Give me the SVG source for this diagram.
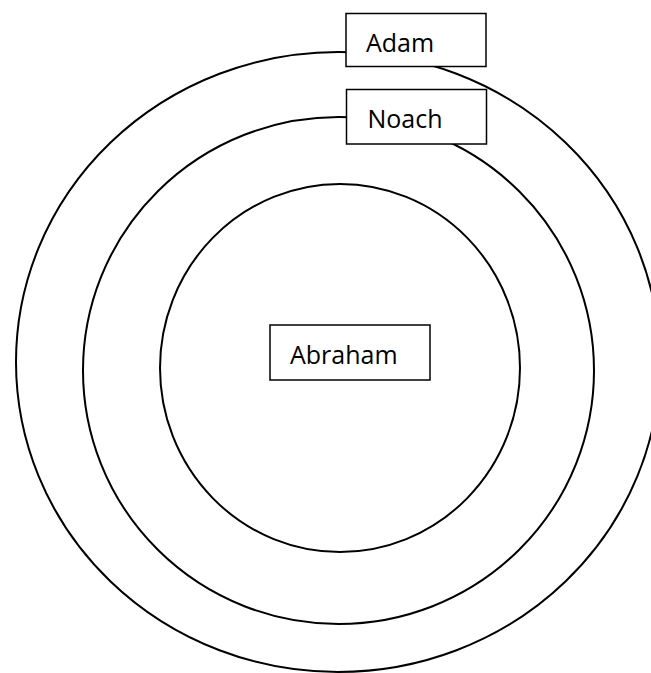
<svg xmlns="http://www.w3.org/2000/svg" width="651" height="673" viewBox="0 0 651 673">
<style>
.ring{fill:none;stroke:#000;stroke-width:2}
.box{fill:#fff;stroke:#000;stroke-width:1.5}
.lbl{font-family:"Open Sans","Noto Sans",sans-serif;font-size:25px;fill:#000}
</style>
<rect width="651" height="673" fill="#fff"/>
<g id="rings">
<ellipse id="ring-adam" class="ring" cx="338" cy="362" rx="322" ry="310"/>
<ellipse id="ring-noach" class="ring" cx="338.5" cy="370.5" rx="255.5" ry="253.5"/>
<ellipse id="ring-abraham" class="ring" cx="340" cy="368" rx="180" ry="184"/>
</g>
<g id="adam">
<rect class="box" x="346" y="13.5" width="140" height="53"/>
<text class="lbl" x="366" y="51.5">Adam</text>
</g>
<g id="noach">
<rect class="box" x="346.5" y="89.5" width="140" height="54.5"/>
<text class="lbl" x="367.5" y="128.3">Noach</text>
</g>
<g id="abraham">
<rect class="box" x="270" y="325" width="160" height="55"/>
<text class="lbl" x="290" y="364">Abraham</text>
</g>
</svg>
